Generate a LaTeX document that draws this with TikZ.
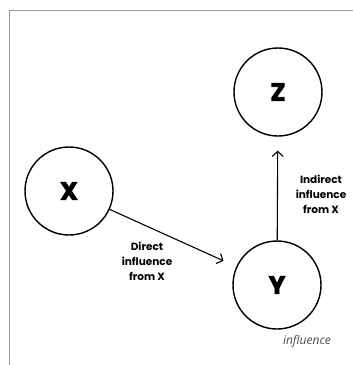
\documentclass[tikz,border=0pt]{standalone}
\usepackage{fontspec}
\setmainfont{Poppins}
\newfontfamily\capfont{Open Sans}
\newfontfamily\varfont{Poppins}[FakeBold=2.5]
\usetikzlibrary{arrows.meta}
\tikzset{
  var/.style={circle, draw, line width=1.4pt, minimum size=88pt, inner sep=0pt, font=\varfont\fontsize{25}{25}\selectfont\bfseries},
  infl/.style={-{Straight Barb[length=5pt,width=11pt]}, line width=1.1pt, shorten >=14pt},
  lbl/.style={align=center, font=\fontsize{10.5}{15}\selectfont\bfseries}
}
\begin{document}
\begin{tikzpicture}[x=1pt, y=-1pt]
	\useasboundingbox (0, 0) rectangle (353, 365);
	\draw[gray!80, line width=0.9pt] (9, 365) -- (9, 10) -- (353, 10);
	\node[var] (x) at (69, 191) {X};
	\node[var] (y) at (277, 285) {Y};
	\node[var] (z) at (278, 92) {Z};
	\draw[infl] (x) -- (y);
	\draw[infl] (y) -- (z);
	\node[lbl] (dir) at (147, 261) {Direct\\influence\\from X};
	\node[lbl] (ind) at (321, 194) {Indirect\\influence\\from X};
	\node[font=\capfont\itshape\fontsize{12}{12}\selectfont, text=black!70] (cap) at (307, 341) {influence};
\end{tikzpicture}
\end{document}
